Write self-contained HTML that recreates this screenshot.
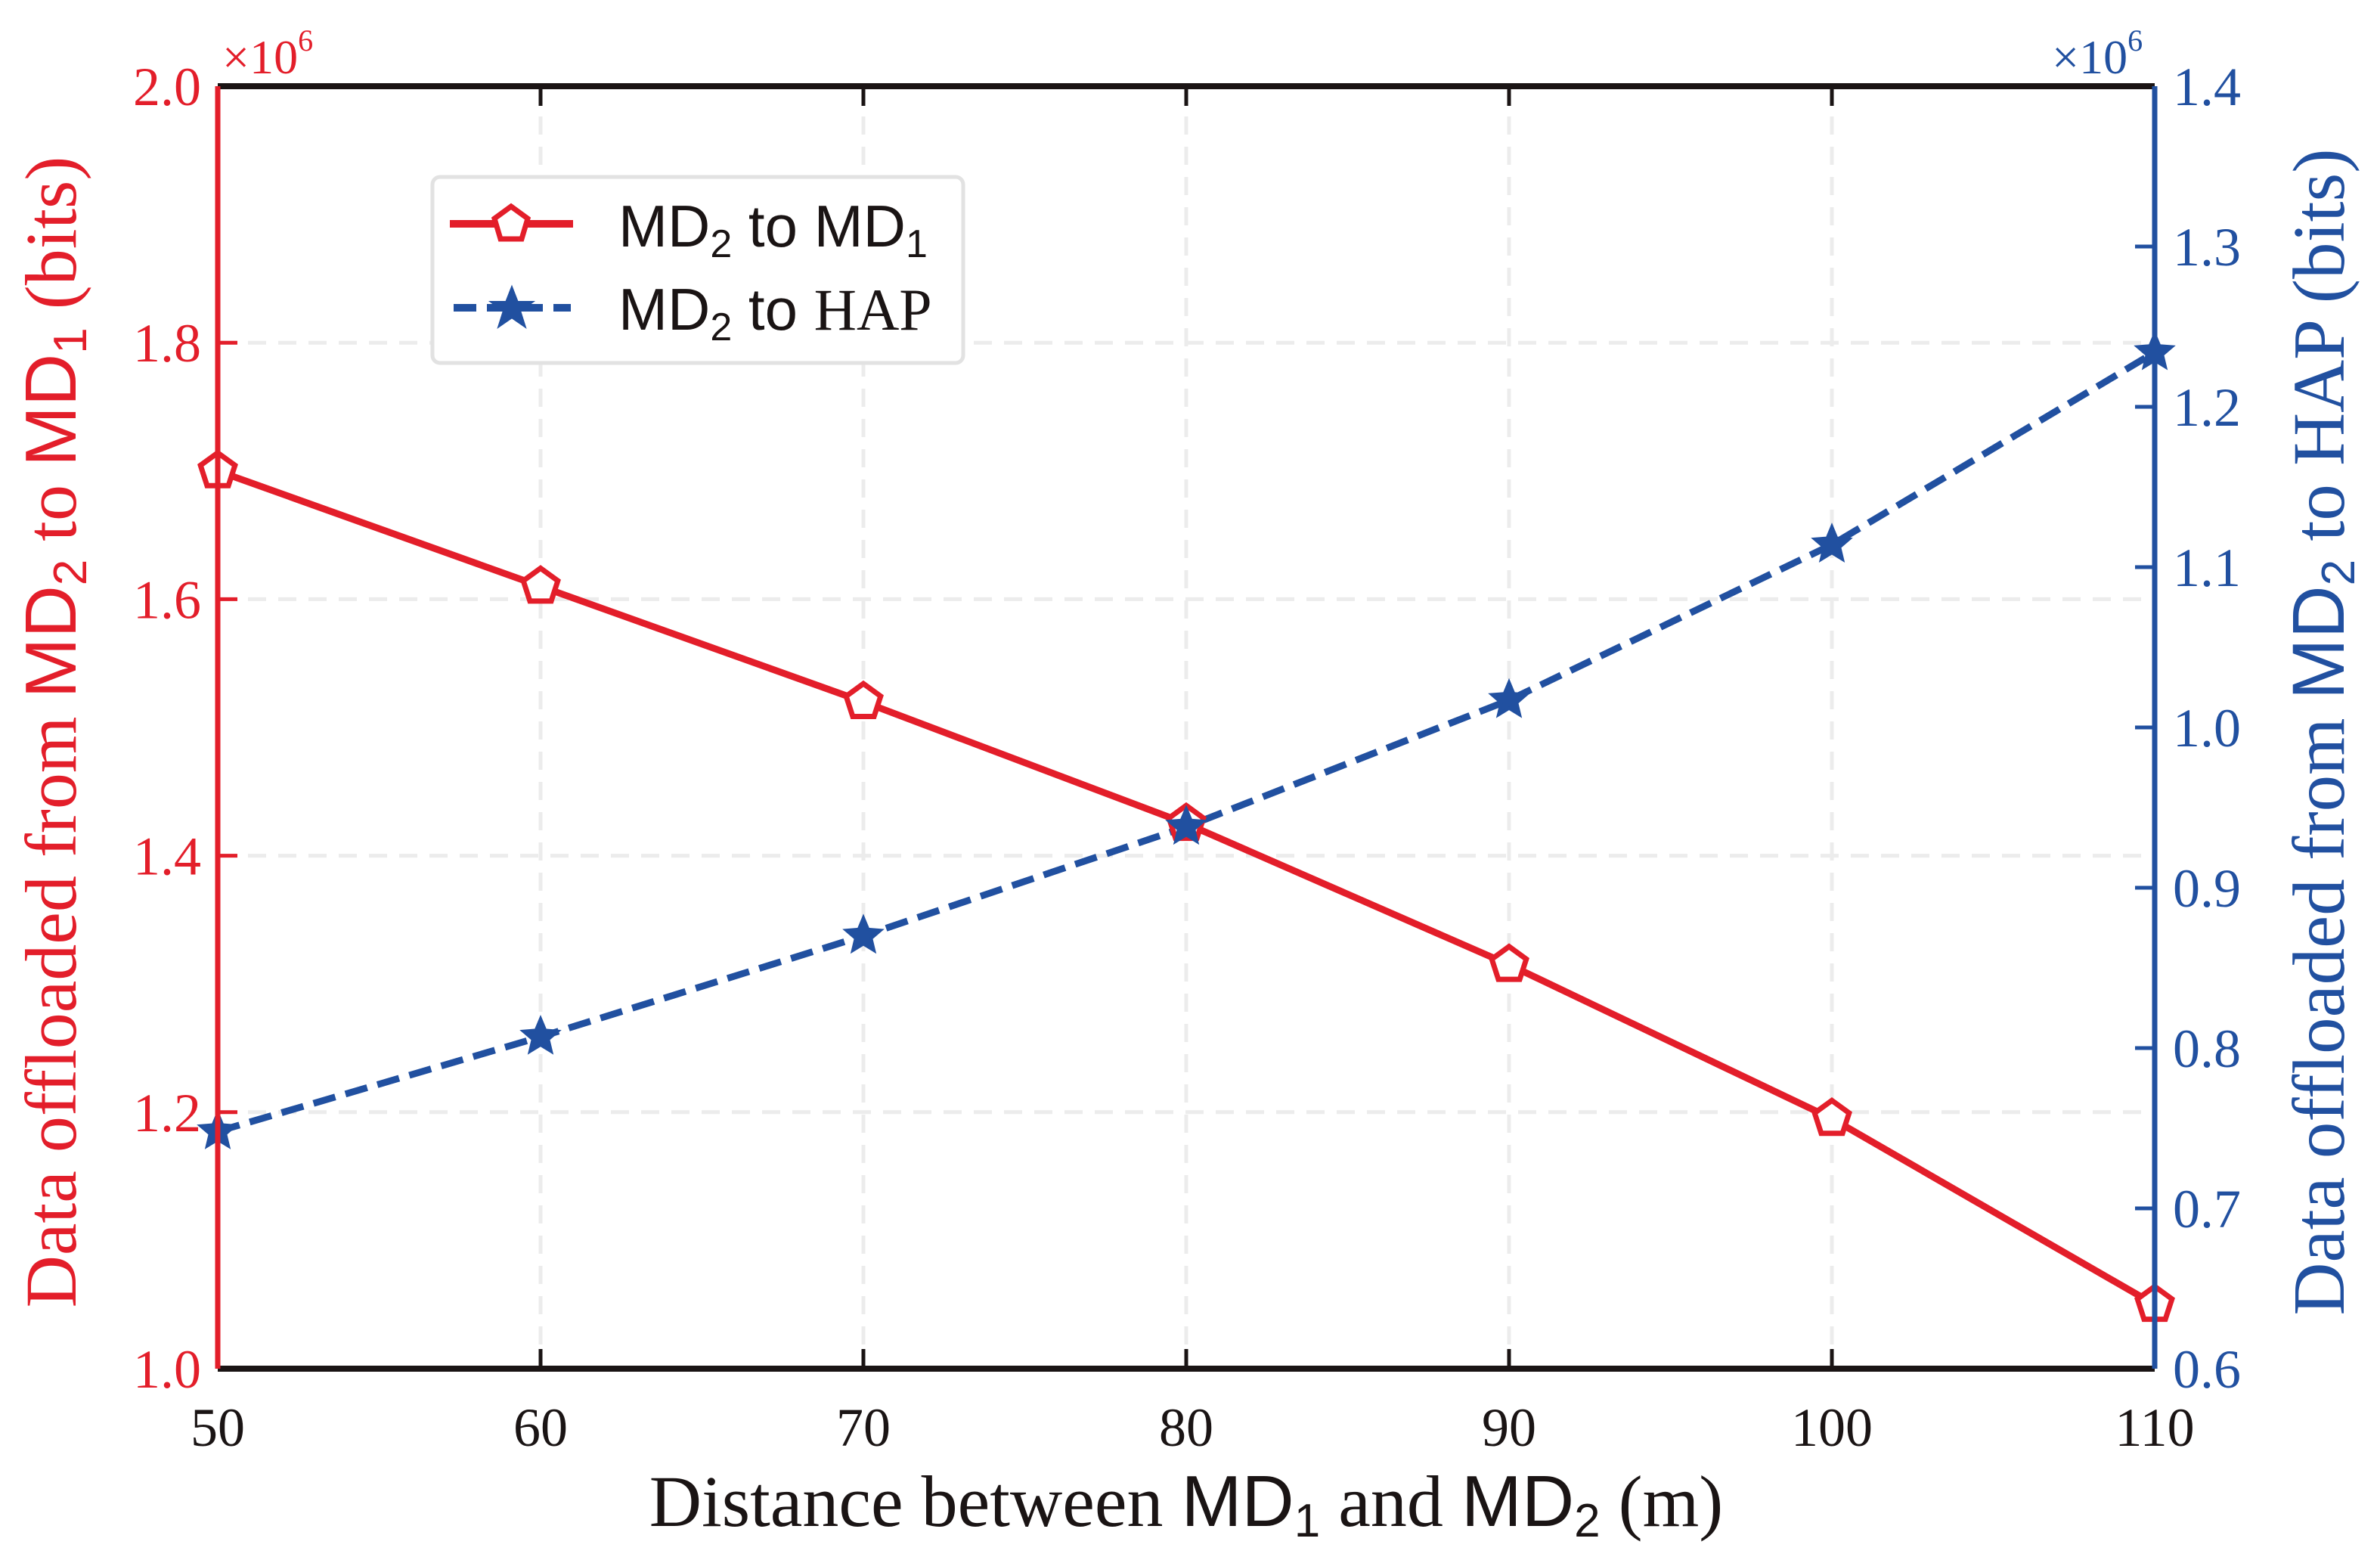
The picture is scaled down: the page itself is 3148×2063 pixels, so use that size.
<!DOCTYPE html>
<html><head><meta charset="utf-8"><style>
html,body{margin:0;padding:0;background:#fff;}
svg{display:block;}
text{font-family:"Liberation Serif",serif;}
.sans{font-family:"Liberation Sans",sans-serif;}
</style></head><body>
<svg id="chart" width="3148" height="2063" viewBox="0 0 3148 2063" xmlns="http://www.w3.org/2000/svg">
<g id="grid"></g>
<g id="series"></g>
<g id="axes"></g>
<text x="294" y="97" font-size="64" fill="#e31e2a">×10<tspan font-size="40" dy="-30">6</tspan></text>
<text x="2714" y="97" font-size="64" fill="#2150a0">×10<tspan font-size="40" dy="-30">6</tspan></text>
<text transform="translate(100,968) rotate(-90)" text-anchor="middle" font-size="96" fill="#e31e2a">Data offloaded from <tspan class="sans">MD</tspan><tspan class="sans" font-size="62" dy="14">2</tspan><tspan dy="-14"> to </tspan><tspan class="sans">MD</tspan><tspan class="sans" font-size="62" dy="14">1</tspan><tspan dy="-14"> (bits)</tspan></text>
<text transform="translate(3100,968) rotate(-90)" text-anchor="middle" font-size="97" fill="#2150a0">Data offloaded from <tspan class="sans">MD</tspan><tspan class="sans" font-size="62" dy="14">2</tspan><tspan dy="-14"> to HAP (bits)</tspan></text>
<text x="1569" y="2018" text-anchor="middle" font-size="96" fill="#1a1414">Distance between <tspan class="sans">MD</tspan><tspan class="sans" font-size="62" dy="14">1</tspan><tspan dy="-14"> and </tspan><tspan class="sans">MD</tspan><tspan class="sans" font-size="62" dy="14">2</tspan><tspan dy="-14"> (m)</tspan></text>
<g>
<rect x="572" y="234" width="702" height="246" rx="10" fill="#fff" stroke="#e2e2e2" stroke-width="5"/>
<g>
<line x1="595" y1="296" x2="758" y2="296" stroke="#e31e2a" stroke-width="10"/>
<polygon points="676,273 698,289 690,316 662,316 654,289" fill="#fff" stroke="#e31e2a" stroke-width="7"/>
<text x="818" y="326" font-size="78" fill="#1a1414" class="sans">MD<tspan font-size="52" dy="14">2</tspan><tspan dy="-14"> to MD</tspan><tspan font-size="52" dy="14">1</tspan></text>
</g>
<g>
<line x1="600" y1="407" x2="755" y2="407" stroke="#2150a0" stroke-width="10" stroke-dasharray="30,14"/>
<polygon points="677,382 684,400 702,400 687,411 693,430 677,419 661,430 667,411 652,400 670,400" fill="#2150a0" stroke="#2150a0" stroke-width="4"/>
<text x="818" y="436" font-size="78" fill="#1a1414" class="sans">MD<tspan font-size="52" dy="14">2</tspan><tspan dy="-14"> to </tspan><tspan style="font-family:'Liberation Serif',serif">HAP</tspan></text>
</g>
</g>
</svg>
<script>
const categories = [50, 60, 70, 80, 90, 100, 110];
const seriesMd1 = [1.70, 1.61, 1.52, 1.425, 1.315, 1.195, 1.05];
const seriesHap = [0.748, 0.807, 0.870, 0.938, 1.017, 1.114, 1.234];
const xTicks = [50, 60, 70, 80, 90, 100, 110];
const leftTicks = ["1.0", "1.2", "1.4", "1.6", "1.8", "2.0"];
const rightTicks = ["0.6", "0.7", "0.8", "0.9", "1.0", "1.1", "1.2", "1.3", "1.4"];

const NS = "http://www.w3.org/2000/svg";
const PL = 288, PR = 2850, PT = 114, PB = 1810;
const RED = "#e31e2a", BLUE = "#2150a0";
const xs = v => PL + (v - 50) / 60 * (PR - PL);
const yl = v => PB - (v - 1.0) / 1.0 * (PB - PT);
const yr = v => PB - (v - 0.6) / 0.8 * (PB - PT);
function mk(tag, attrs, parent) {
  const e = document.createElementNS(NS, tag);
  for (const k in attrs) e.setAttribute(k, attrs[k]);
  parent.appendChild(e);
  return e;
}
const gridG = document.getElementById('grid');
const axesG = document.getElementById('axes');
const serG = document.getElementById('series');

xTicks.forEach(t => {
  const x = xs(t);
  if (t > 50 && t < 110) {
    const g = mk('line', {x1: x, x2: x, y1: PT, y2: PB, stroke: '#ececec', 'stroke-width': 5, 'stroke-dasharray': '24,16'}, gridG);
    
    
    const tk = mk('line', {x1: x, x2: x, y1: PT, y2: PT + 26, stroke: '#1a1414', 'stroke-width': 5}, axesG);
    
    
    const tb = mk('line', {x1: x, x2: x, y1: PB, y2: PB - 26, stroke: '#1a1414', 'stroke-width': 5}, axesG);
    
    
  }
  const lb = mk('text', {x: x, y: 1912, 'text-anchor': 'middle', 'font-size': 72, fill: '#1a1414'}, axesG);
  lb.textContent = t;
  
  
});
leftTicks.forEach(s => {
  const y = yl(parseFloat(s));
  if (y > PT + 2 && y < PB - 2) {
    const g = mk('line', {x1: PL, x2: PR, y1: y, y2: y, stroke: '#ececec', 'stroke-width': 5, 'stroke-dasharray': '24,16'}, gridG);
    
    
    const tk = mk('line', {x1: PL, x2: PL + 26, y1: y, y2: y, stroke: RED, 'stroke-width': 5}, axesG);
    
    
  }
  const lb = mk('text', {x: PL - 22, y: y + 25, 'text-anchor': 'end', 'font-size': 72, fill: RED}, axesG);
  lb.textContent = s;
  
  
});
rightTicks.forEach(s => {
  const y = yr(parseFloat(s));
  if (y > PT + 2 && y < PB - 2) {
    const tk = mk('line', {x1: PR, x2: PR - 26, y1: y, y2: y, stroke: BLUE, 'stroke-width': 5}, axesG);
    
    
  }
  const lb = mk('text', {x: PR + 24, y: y + 25, 'text-anchor': 'start', 'font-size': 72, fill: BLUE}, axesG);
  lb.textContent = s;
  
  
});
const topAx = mk('line', {x1: PL, x2: PR, y1: PT, y2: PT, stroke: '#1a1414', 'stroke-width': 8}, axesG);


const botAx = mk('line', {x1: PL, x2: PR, y1: PB, y2: PB, stroke: '#1a1414', 'stroke-width': 8}, axesG);


const leftAx = mk('line', {x1: PL, x2: PL, y1: PT, y2: PB, stroke: RED, 'stroke-width': 7}, axesG);


const rightAx = mk('line', {x1: PR, x2: PR, y1: PT, y2: PB, stroke: BLUE, 'stroke-width': 7}, axesG);



const ptsRed = categories.map((c, i) => xs(c) + ',' + yl(seriesMd1[i])).join(' ');
const lineRed = mk('polyline', {points: ptsRed, fill: 'none', stroke: RED, 'stroke-width': 9}, serG);


const ptsBlue = categories.map((c, i) => xs(c) + ',' + yr(seriesHap[i])).join(' ');
const lineBlue = mk('polyline', {points: ptsBlue, fill: 'none', stroke: BLUE, 'stroke-width': 9, 'stroke-dasharray': '30,14'}, serG);



function pent(cx, cy, r) {
  const p = [];
  for (let k = 0; k < 5; k++) { const a = -Math.PI / 2 + k * 2 * Math.PI / 5; p.push((cx + r * Math.cos(a)) + ',' + (cy + r * Math.sin(a))); }
  return p.join(' ');
}
function star(cx, cy, r) {
  const p = [];
  for (let k = 0; k < 10; k++) { const a = -Math.PI / 2 + k * Math.PI / 5; const rr = k % 2 ? r * 0.45 : r; p.push((cx + rr * Math.cos(a)) + ',' + (cy + rr * Math.sin(a))); }
  return p.join(' ');
}
categories.forEach((c, i) => {
  const m = mk('polygon', {points: pent(xs(c), yl(seriesMd1[i]), 24), fill: '#fff', stroke: RED, 'stroke-width': 7}, serG);
  
  
  const s = mk('polygon', {points: star(xs(c), yr(seriesHap[i]), 24), fill: BLUE, stroke: BLUE, 'stroke-width': 4}, serG);
  
  
});
</script>
</body></html>
